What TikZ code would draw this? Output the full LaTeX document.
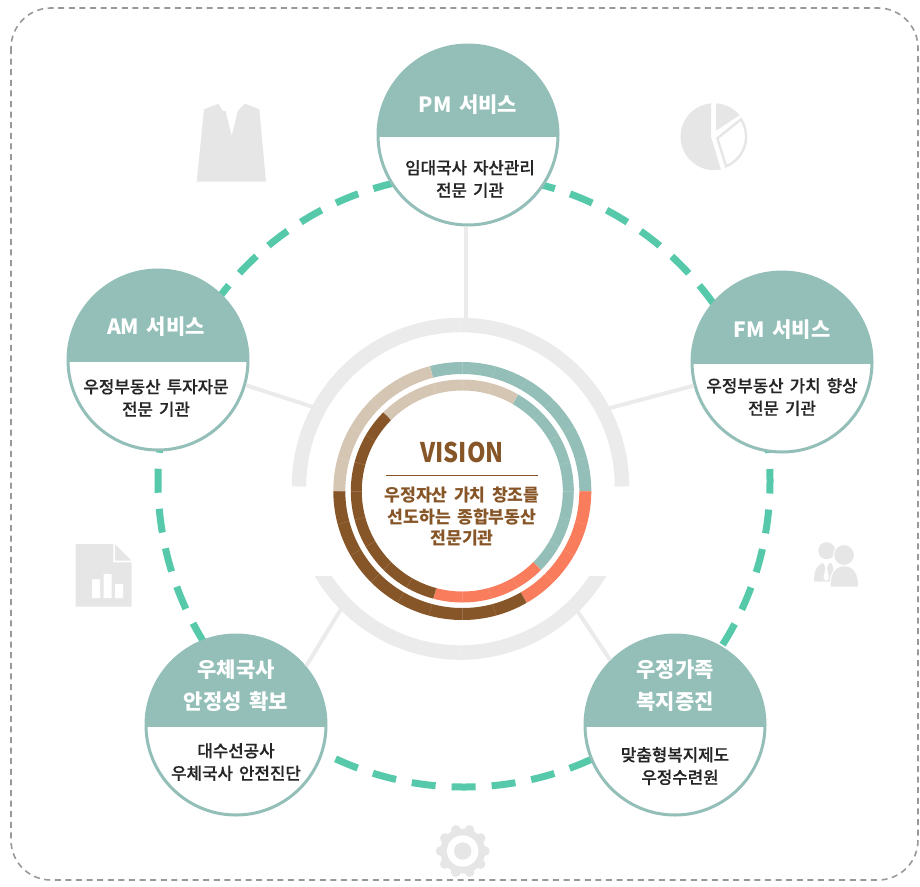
\documentclass[tikz,border=0pt]{standalone}
\usepackage{fontspec}
\setmainfont[WordSpace=1.6]{Noto Sans CJK KR}
\newfontfamily\medfont[FakeBold=0.35,WordSpace=1.6]{Noto Sans CJK KR Medium}
\definecolor{headteal}{HTML}{93BFB8}
\definecolor{ringtan}{HTML}{D5C5B3}
\definecolor{ringbrown}{HTML}{875628}
\definecolor{ringorange}{HTML}{F97C5C}
\definecolor{softgray}{HTML}{EBEBEB}
\definecolor{icongray}{HTML}{E6E6E6}
\definecolor{dashgreen}{HTML}{56C9AA}
\tikzset{
  svc/.style={circle,draw=headteal,line width=3pt,fill=white,minimum size=180pt,inner sep=0pt,
    path picture={\fill[headteal] (path picture bounding box.north west) rectangle ([yshift=-2pt]path picture bounding box.east);}},
  svchead/.style={align=center,text=white,font=\fontsize{21}{32}\selectfont\bfseries},
  svctext/.style={align=center,text=black!85,font=\fontsize{16.8}{22.5}\selectfont\medfont},
  spoke/.style={softgray,line width=4pt},
  visiontext/.style={align=center,text=ringbrown,font=\fontsize{17.2}{21.5}\selectfont\bfseries},
  icon/.style={fill=icongray,draw=none}
}
\begin{document}
\begin{tikzpicture}[x=1pt,y=-1pt]
  \useasboundingbox (0,0) rectangle (920,886);
  \draw[gray!80,line width=1.6pt,dash pattern=on 6pt off 4.6pt,rounded corners=40pt] (11,8) rectangle (918,880);
  % background icons
  \fill[icon] (204,109.3) -- (218.3,103.7) -- (223,111) -- (225.5,111) -- (231.7,136) -- (237.7,111) -- (245,103.7)
    -- (259.3,109.3) -- (266,181.7) -- (196.7,181.7) -- cycle;
  \begin{scope}[shift={(714,136.7)},y=1pt]
    \fill[icon] (95:33.5) arc[start angle=95,end angle=282,radius=33.5pt] -- (-3,0) -- cycle;
    \fill[icon] (2,33.4) arc[start angle=86.6,end angle=40,radius=33.5pt] -- (2,6) -- cycle;
    \draw[icongray,line width=2.4pt,fill=white] (27,17.4) arc[start angle=32.8,end angle=-68,radius=32pt] -- (3.3,-1.6) -- cycle;
  \end{scope}
  \fill[icon] (75.7,544) -- (113.3,544) -- (113.3,562.3) -- (131.7,562.3) -- (131.7,606.7) -- (75.7,606.7) -- cycle;
  \fill[icon] (115,544) -- (131.7,560.7) -- (115,560.7) -- cycle;
  \fill[white] (92,579.3) rectangle (100,598) (103.7,574) rectangle (111.7,598) (115,584) rectangle (123,598);
  \fill[icon] (826.7,550.7) circle[radius=8.5pt];
  \fill[icon] (814,581.7) .. controls (814,572) and (816,566) .. (821.7,563.3) -- (832,563.3) -- (836,581.7) -- cycle;
  \fill[white] (823.5,563) -- (829,563) -- (827,568) -- (829,578) -- (826,581) -- (823.5,578) -- (825.5,568) -- cycle;
  \fill[icon,draw=white,line width=1pt] (844,555) circle[radius=10.5pt];
  \fill[icon,draw=white,line width=1pt] (830.2,587.2) .. controls (829.5,573) and (835,565.7) .. (844.3,565.7) .. controls (853.5,565.7) and (859,573) .. (858.6,587.2) -- cycle;
  \fill[icon] (462.7,851) circle[radius=22.5pt];
  \foreach \a in {0,36,...,324}
    \fill[icon] (462.7,851) ++(\a:22pt) circle[radius=5pt];
  \fill[white] (462.7,851) circle[radius=15.7pt];
  \fill[icon] (462.7,851) circle[radius=8.7pt];
  % dashed ring behind the services
  \draw[dashgreen,line width=7pt,dash pattern=on 24pt off 16.05pt,dash phase=12pt] (464,481) circle[radius=306pt];
  % vision rings
  \begin{scope}[shift={(460.5,486.5)},y=1pt]
    \draw[softgray,line width=14.5pt] (180:161.5) arc[start angle=180,end angle=0,radius=161.5pt];
    \foreach \a in {15,30,...,165}
      \draw[white,opacity=.2,line width=.5pt] (\a:154) -- (\a:169);
  \end{scope}
  \begin{scope}[shift={(460.5,491)},y=1pt]
    \clip (-170,-85) rectangle (170,-180);
    \draw[softgray,line width=14.5pt] (200:161.5) arc[start angle=200,end angle=340,radius=161.5pt];
    \foreach \a in {240,255,...,300}
      \draw[white,opacity=.2,line width=.5pt] (\a:154) -- (\a:169);
  \end{scope}
  \begin{scope}[shift={(462.3,491)},y=1pt]
    \foreach \from/\to/\colr in {104.5/0/headteal,0/-60/ringorange,-60/-180/ringbrown,180/104.5/ringtan}
      \draw[\colr,line width=12pt] (\from:123) arc[start angle=\from,end angle=\to,radius=123pt];
    \foreach \from/\to/\colr in {60/-45/headteal,-45/-105/ringorange,-105/-225/ringbrown,135/60/ringtan}
      \draw[\colr,line width=11pt] (\from:106) arc[start angle=\from,end angle=\to,radius=106pt];
    \foreach \a in {0,15,...,345}
      \draw[white,opacity=.15,line width=.5pt] (\a:100.5) -- (\a:111.5) (\a:117) -- (\a:129);
  \end{scope}
  \node[font=\fontsize{27}{30}\selectfont\bfseries,text=ringbrown,xscale=.875,transform shape] (visiontitle) at (462,452) {VISION};
  \coordinate (ruleleft) at (386,475);
  \coordinate (ruleright) at (538,475);
  \draw[ringbrown,line width=.9pt] (ruleleft) -- (ruleright);
  \node[visiontext] (visionbody) at (462,517) {우정자산 가치 창조를\\선도하는 종합부동산\\전문기관};
  % services
  \node[svc] (pm) at (468,135) {};
  \node[svc] (am) at (158,360) {};
  \node[svc] (fm) at (782,362) {};
  \node[svc] (safe) at (236,725) {};
  \node[svc] (welfare) at (675,725) {};
  \node[svchead] (pmhead) at (468,105) {PM 서비스};
  \node[svctext] (pmbody) at (470,179) {임대국사 자산관리\\전문 기관};
  \node[svchead] (amhead) at (156,327) {AM 서비스};
  \node[svctext] (ambody) at (156,398) {우정부동산 투자자문\\전문 기관};
  \node[svchead] (fmhead) at (782,330) {FM 서비스};
  \node[svctext] (fmbody) at (782,397) {우정부동산 가치 향상\\전문 기관};
  \node[svchead] (safehead) at (236,686) {우체국사\\안정성 확보};
  \node[svctext] (safebody) at (236,762) {대수선공사\\우체국사 안전진단};
  \node[svchead] (welfarehead) at (675,686) {우정가족\\복지증진};
  \node[svctext] (welfarebody) at (675,766) {맞춤형복지제도\\\hspace*{10pt}우정수련원};
  % spokes to the grey arcs
  \coordinate (pmend) at (466,319);
  \coordinate (amend) at (313,407);
  \coordinate (fmend) at (610,408);
  \coordinate (safeend) at (341,609);
  \coordinate (welfareend) at (578,612);
  \draw[spoke] (pm.south -| pmend) -- (pmend);
  \draw[spoke] (am.-16) -- (amend);
  \draw[spoke] (fm.195) -- (fmend);
  \draw[spoke] (safe.40) -- (safeend);
  \draw[spoke] (welfare.135) -- (welfareend);
\end{tikzpicture}
\end{document}
